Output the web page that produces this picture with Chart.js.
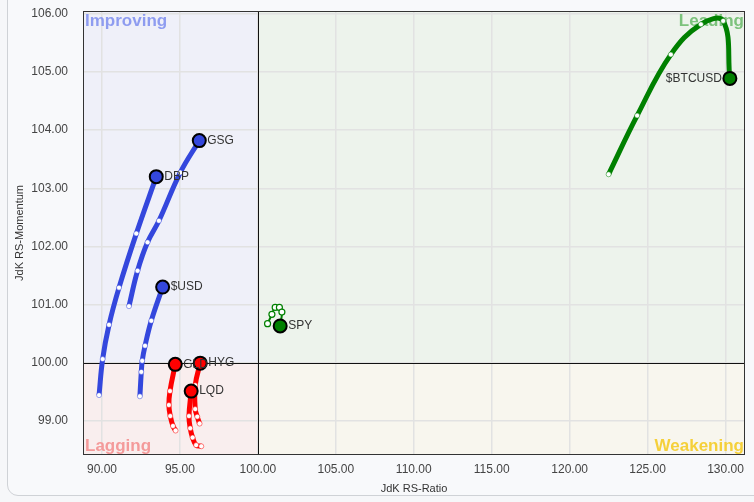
<!DOCTYPE html>
<html>
<head>
<meta charset="utf-8">
<script src="https://cdn.jsdelivr.net/npm/chart.js@4/dist/chart.umd.min.js"></script>
<style>
  html, body { margin: 0; padding: 0; background: #f6f7f9; }
  #card {
    position: absolute; left: 7px; top: -12px; width: 770px; height: 506px;
    border: 1px solid #cfd2d6; border-radius: 11px; background: #f8f9fb;
  }
  #wrap { position: absolute; left: 0; top: 0; width: 754px; height: 502px; }
</style>
</head>
<body>
<div id="card"></div>
<div id="wrap"><canvas id="rrg" width="754" height="502"></canvas></div>
<script>
// tick labels
const xTicks = [90, 95, 100, 105, 110, 115, 120, 125, 130];
const yTicks = [99, 100, 101, 102, 103, 104, 105, 106];

// symbols (tail points, last one is the head)
const names = ['DBP', 'GSG', '$USD', 'GLD', 'HYG', 'LQD', 'SPY', '$BTCUSD'];

const dbpRatio = [89.81, 90.04, 90.45, 91.09, 92.20, 93.48];
const dbpMom   = [99.44, 100.06, 100.65, 101.29, 102.22, 103.20];

const gsgRatio = [91.73, 92.28, 92.92, 93.65, 95.02, 96.24];
const gsgMom   = [100.97, 101.58, 102.07, 102.44, 103.27, 103.82];

const usdRatio = [92.43, 92.52, 92.58, 92.76, 93.16, 93.89];
const usdMom   = [99.42, 99.84, 100.03, 100.29, 100.72, 101.30];

const gldRatio = [94.72, 94.55, 94.38, 94.29, 94.36, 94.70];
const gldMom   = [98.83, 98.91, 99.08, 99.27, 99.51, 99.97];

const hygRatio = [96.26, 96.11, 95.98, 95.98, 96.30];
const hygMom   = [98.95, 99.07, 99.20, 99.61, 99.99];

const lqdRatio = [96.37, 96.04, 95.81, 95.66, 95.58, 95.72];
const lqdMom   = [98.56, 98.58, 98.71, 98.87, 99.08, 99.51];

const spyRatio = [100.62, 100.90, 101.11, 101.38, 101.54, 101.43];
const spyMom   = [100.67, 100.83, 100.95, 100.95, 100.87, 100.63];

const btcRatio = [122.50, 124.33, 126.49, 128.42, 129.85, 130.28];
const btcMom   = [103.24, 104.25, 105.30, 105.82, 105.88, 104.89];

const ratios = [dbpRatio, gsgRatio, usdRatio, gldRatio, hygRatio, lqdRatio, spyRatio, btcRatio];
const moms   = [dbpMom, gsgMom, usdMom, gldMom, hygMom, lqdMom, spyMom, btcMom];

const BLUE = '#3447dd', RED = '#ff0000', GREEN = '#008000';
const colors = [BLUE, BLUE, BLUE, RED, RED, RED, GREEN, GREEN];
const widths = [5, 5, 5, 5, 5, 5, 2, 5];

const datasets = names.map((n, i) => {
  const pts = ratios[i].map((x, k) => ({ x: x, y: moms[i][k] }));
  const last = pts.length - 1;
  const thin = widths[i] < 3;
  return {
    label: n,
    data: pts,
    showLine: true,
    borderColor: colors[i],
    borderWidth: widths[i],
    tension: 0.4,
    pointRadius: pts.map((p, k) => k === last ? 6.5 : (thin ? 3 : 2.5)),
    pointBackgroundColor: pts.map((p, k) => k === last ? colors[i] : '#ffffff'),
    pointBorderColor: pts.map((p, k) => k === last ? '#000000' : colors[i]),
    pointBorderWidth: pts.map((p, k) => k === last ? 2 : (thin ? 1.2 : 0.5)),
    order: names.length - i
  };
});

const quadrants = {
  id: 'quadrants',
  beforeDraw(chart) {
    const { ctx, chartArea: a, scales } = chart;
    const cx = scales.x.getPixelForValue(100);
    const cy = scales.y.getPixelForValue(100);
    ctx.save();
    ctx.fillStyle = '#eff0f9'; ctx.fillRect(a.left, a.top, cx - a.left, cy - a.top);
    ctx.fillStyle = '#edf3ec'; ctx.fillRect(cx, a.top, a.right - cx, cy - a.top);
    ctx.fillStyle = '#f9eeee'; ctx.fillRect(a.left, cy, cx - a.left, a.bottom - cy);
    ctx.fillStyle = '#f8f6ee'; ctx.fillRect(cx, cy, a.right - cx, a.bottom - cy);
    ctx.restore();
  },
  beforeDatasetsDraw(chart) {
    const { ctx, chartArea: a, scales } = chart;
    const cx = scales.x.getPixelForValue(100);
    const cy = scales.y.getPixelForValue(100);
    ctx.save();
    ctx.strokeStyle = '#111';
    ctx.lineWidth = 1;
    ctx.beginPath();
    ctx.moveTo(Math.round(cx) + 0.5, a.top); ctx.lineTo(Math.round(cx) + 0.5, a.bottom);
    ctx.moveTo(a.left, Math.round(cy) + 0.5); ctx.lineTo(a.right, Math.round(cy) + 0.5);
    ctx.stroke();
    ctx.strokeStyle = '#333';
    ctx.strokeRect(a.left + 0.5, a.top + 0.5, a.right - a.left - 1, a.bottom - a.top - 1);

    ctx.font = 'bold 17px "Liberation Sans", Arial, sans-serif';
    ctx.textBaseline = 'top';
    ctx.textAlign = 'left';
    ctx.fillStyle = '#8e9cf0'; ctx.fillText('Improving', a.left + 2, a.top + 2);
    ctx.textBaseline = 'bottom';
    ctx.fillStyle = '#f49a9a'; ctx.fillText('Lagging', a.left + 2, a.bottom);
    ctx.textAlign = 'right';
    ctx.textBaseline = 'top';
    ctx.fillStyle = '#7cc27c'; ctx.fillText('Leading', a.right - 1, a.top + 2);
    ctx.textBaseline = 'bottom';
    ctx.fillStyle = '#f5d03a'; ctx.fillText('Weakening', a.right - 1, a.bottom);
    ctx.restore();
  },
  afterDatasetsDraw(chart) {
    const { ctx, chartArea: a } = chart;
    ctx.save();
    ctx.font = '12px "Liberation Sans", Arial, sans-serif';
    ctx.fillStyle = '#333';
    ctx.textBaseline = 'middle';
    chart.data.datasets.forEach((ds, i) => {
      const meta = chart.getDatasetMeta(i);
      const head = meta.data[meta.data.length - 1];
      if (head.x > a.right - 60) {
        ctx.textAlign = 'right';
        ctx.fillText(ds.label, head.x - 8, head.y);
      } else {
        ctx.textAlign = 'left';
        ctx.fillText(ds.label, head.x + 8, head.y);
      }
    });
    ctx.restore();
  }
};

const tickFont = { family: '"Liberation Sans", Arial, sans-serif', size: 12 };

new Chart(document.getElementById('rrg'), {
  type: 'scatter',
  data: { datasets: datasets },
  options: {
    responsive: false,
    animation: false,
    layout: { padding: { left: 0, right: 9, top: 11, bottom: 0 } },
    plugins: { legend: { display: false }, tooltip: { enabled: false } },
    scales: {
      x: {
        min: 88.78, max: 131.25,
        afterBuildTicks: s => { s.ticks = xTicks.map(v => ({ value: v })); },
        afterFit: s => { s.height = 47; s.paddingLeft = 0; s.paddingRight = 0; },
        grid: { color: '#e2e2e2', lineWidth: 1.5, drawTicks: false },
        border: { display: false },
        ticks: { padding: 7, color: '#444', font: tickFont, maxRotation: 0,
                 callback: v => Number(v).toFixed(2) },
        title: { display: true, text: 'JdK RS-Ratio', color: '#333',
                 font: { family: '"Liberation Sans", Arial, sans-serif', size: 11 },
                 padding: { top: 0, bottom: 6 } }
      },
      y: {
        min: 98.41, max: 106.05,
        afterBuildTicks: s => { s.ticks = yTicks.map(v => ({ value: v })); },
        afterFit: s => { s.width = 83; s.paddingTop = 0; s.paddingBottom = 0; },
        grid: { color: '#e2e2e2', lineWidth: 1.5, drawTicks: false },
        border: { display: false },
        ticks: { padding: 15, color: '#444', font: tickFont,
                 callback: v => Number(v).toFixed(2) },
        title: { display: true, text: 'JdK RS-Momentum', color: '#333',
                 font: { family: '"Liberation Sans", Arial, sans-serif', size: 11 },
                 padding: { top: 13, bottom: 0 } }
      }
    }
  },
  plugins: [quadrants]
});
</script>
</body>
</html>
